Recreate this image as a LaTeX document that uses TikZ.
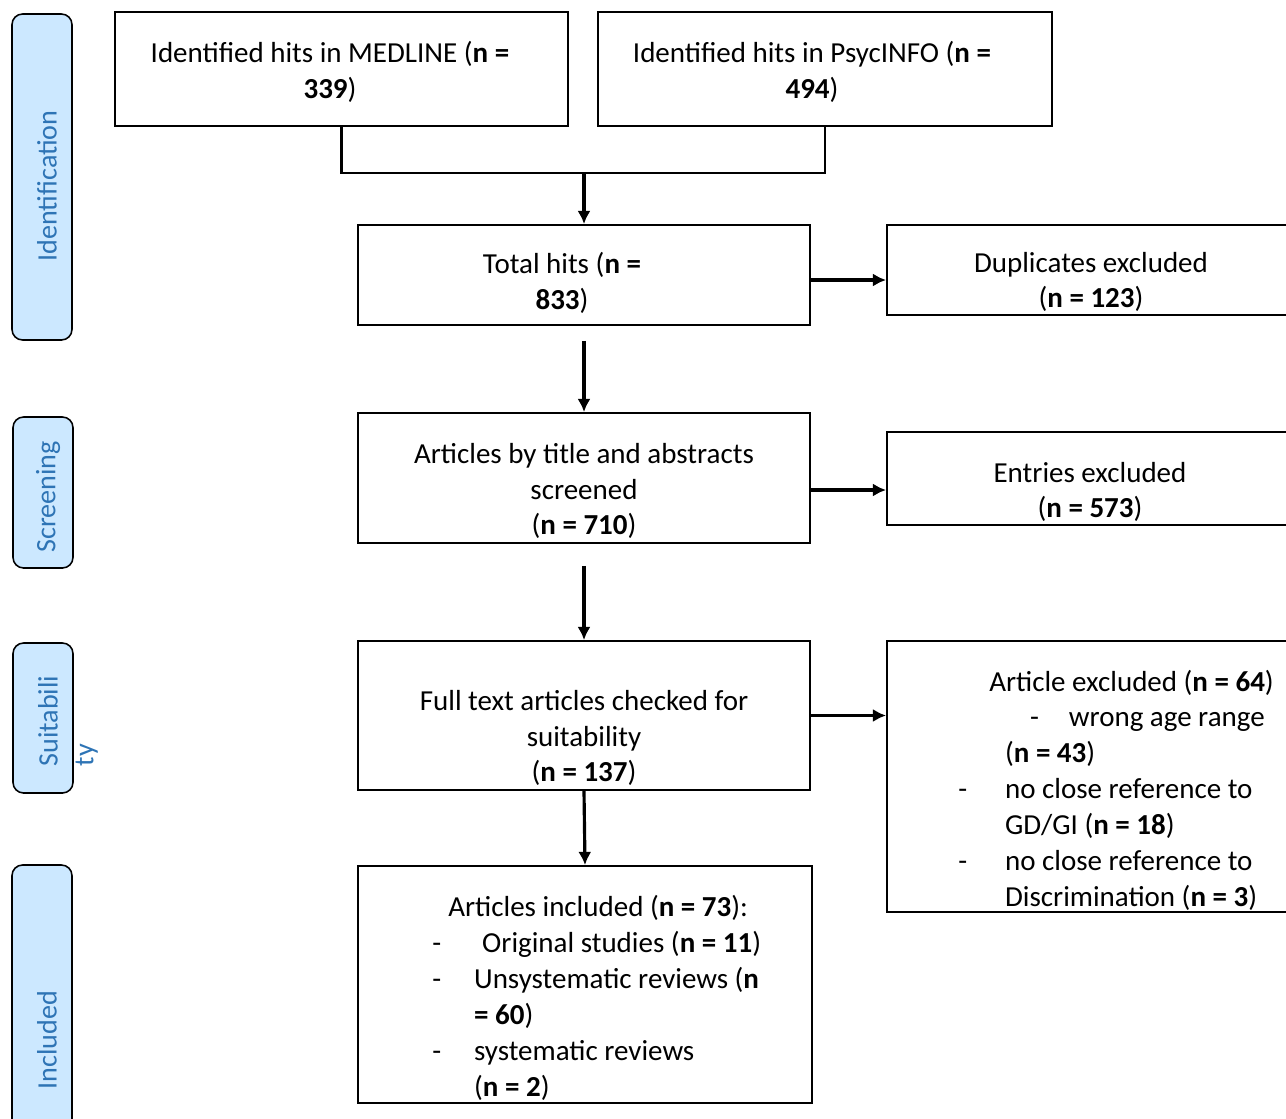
\documentclass[tikz,border=0pt]{standalone}
\usepackage{fontspec}
\setmainfont{Carlito}
\usetikzlibrary{arrows.meta,fit,calc}
\definecolor{bleuphase}{RGB}{46,116,181}
\definecolor{fondphase}{RGB}{204,232,255}
\begin{document}
\begin{tikzpicture}[x=0.02cm,y=-0.02cm]
			\tikzstyle{boite}=[draw,line width=1.1pt,inner sep=0pt]
			\tikzstyle{phase}=[draw,line width=0.9pt,rounded corners=6pt,fill=fondphase,inner sep=0pt]
			\tikzstyle{texte}=[inner sep=0pt,align=center,font=\fontsize{16.5pt}{20.4pt}\selectfont]
			\tikzstyle{liste}=[texte,align=left,anchor=west]
			\tikzstyle{titre}=[texte,rotate=90,text=bleuphase,font=\fontsize{16pt}{20.4pt}\selectfont]
			\tikzstyle{fleche}=[-{Latex[length=7.5pt,width=7.5pt]},line width=1.8pt]
			\tikzstyle{ligne}=[line width=1.3pt]
			\def\Tiret#1{\makebox[#1][l]{-}}
			\useasboundingbox (0,0) rectangle (1286,1119);
			%
			% phases on the left
			\node[phase,fit={(12,14) (72,340)}] (PhId) {};
			\node[phase,fit={(13,417) (73,568)}] (PhScr) {};
			\node[phase,fit={(13,643) (73,793)}] (PhSuit) {};
			\node[phase,fit={(12,865) (72,1140)}] (PhIncl) {};
			\node[titre] (TId) at (47,186) {Identification};
			\node[titre] (TScr) at (48,497) {Screening};
			\node[titre,align=left] (TSuit) at (68,721) {Suitabili\\ty};
			\node[titre] (TIncl) at (47,1040) {Included};
			%
			% boxes
			\node[boite,fit={(115,12) (568,126)}] (Med) {};
			\node[boite,fit={(598,12) (1052,126)}] (Psyc) {};
			\node[boite,fit={(358,225) (810,325)}] (Total) {};
			\node[boite,fit={(887,225) (1296,315)}] (Dup) {};
			\node[boite,fit={(358,413) (810,543)}] (Art) {};
			\node[boite,fit={(887,432) (1296,525)}] (Ent) {};
			\node[boite,fit={(358,641) (810,790)}] (Full) {};
			\node[boite,fit={(887,641) (1296,912)}] (Excl) {};
			\node[boite,fit={(358,866) (812,1103)}] (Incl) {};
			%
			% texts
			\node[texte] (TMed) at (330,72) {Identified hits in MEDLINE (\textbf{n =}\\\textbf{339})};
			\node[texte] (TPsyc) at (812,72) {Identified hits in PsycINFO (\textbf{n =}\\\textbf{494})};
			\node[texte] (TTotal) at (562,283) {Total hits (\textbf{n =}\\\textbf{833})};
			\node[texte] (TDup) at (1091,282) {Duplicates excluded\\(\textbf{n = 123})};
			\node[texte] (TArt) at (584,491) {Articles by title and abstracts\\screened\\(\textbf{n = 710})};
			\node[texte] (TEnt) at (1090,492) {Entries excluded\\(\textbf{n = 573})};
			\node[texte] (TFull) at (584,738) {Full text articles checked for\\suitability\\(\textbf{n = 137})};
			\node[liste] (TExcl) at (958,790) {\hspace*{17.6pt}Article excluded (\textbf{n = 64})\\
				\hspace*{40.8pt}\Tiret{22.1pt}wrong age range\\
				\hspace*{26.6pt}(\textbf{n = 43})\\
				\Tiret{26.6pt}no close reference to\\
				\hspace*{26.6pt}GD/GI (\textbf{n = 18})\\
				\Tiret{26.6pt}no close reference to\\
				\hspace*{26.6pt}Discrimination (\textbf{n = 3})};
			\node[liste] (TIncl) at (432,998) {\hspace*{9.1pt}Articles included (\textbf{n = 73}):\\
				\Tiret{28.4pt}Original studies (\textbf{n = 11})\\
				\Tiret{23.8pt}Unsystematic reviews (\textbf{n}\\
				\hspace*{23.8pt}\textbf{= 60})\\
				\Tiret{23.8pt}systematic reviews\\
				\hspace*{23.8pt}(\textbf{n = 2})};
			%
			\coordinate (jonction) at (584,172);
			\coordinate (sortieTotal) at ($(Total.east)+(0,5)$);
			\coordinate (sortieArt) at ($(Art.east)+(0,12)$);
			\draw[ligne] (Med.south) -- ++(0,46) -| (Psyc.south);
			\draw[fleche] (jonction) -- (Total.north);
			\draw[fleche] (sortieTotal) -- (sortieTotal -| Dup.west);
			\draw[fleche,shorten <=8.5pt] (Total.south) -- (Art.north);
			\draw[fleche] (sortieArt) -- (sortieArt -| Ent.west);
			\draw[fleche,shorten <=12.5pt] (Art.south) -- (Full.north);
			\draw[fleche] (Full.east) -- (Full.east -| Excl.west);
			\draw[fleche] (Full.south) -- (Incl.north);
		\end{tikzpicture}
\end{document}
